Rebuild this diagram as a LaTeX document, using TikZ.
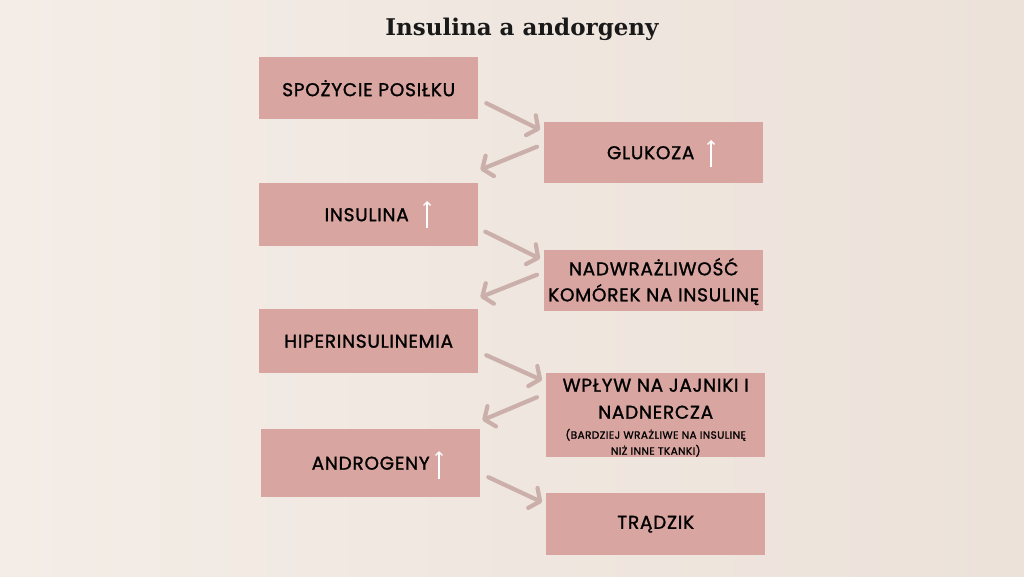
\documentclass[tikz,border=0pt]{standalone}
\usepackage{fontspec}
\setmainfont{Poppins}
\newfontfamily\boxfont{Poppins}[FakeBold=1.3,LetterSpace=4]
\newfontfamily\titlefont{DejaVu Serif}
\usetikzlibrary{arrows.meta,calc}
\definecolor{bg}{HTML}{ECE2DA}
\definecolor{bgl}{HTML}{F4EDE7}
\definecolor{boxc}{HTML}{D9A5A0}
\definecolor{arrc}{HTML}{CBAFAA}
\tikzset{
  boxtext/.style={align=center, font=\boxfont\fontsize{18.5}{26}\selectfont, text=black, inner sep=0pt},
  box/.style={boxtext, fill=boxc, draw=none, anchor=north west, minimum width=219pt},
  flow/.style={arrc, line width=4.2pt, line cap=round, -{Straight Barb[length=8pt,width=22pt,line width=4.2pt,round]}},
  upar/.style={white, line width=1.3pt, -{Straight Barb[length=3.5pt,width=7pt,line width=1.3pt]}},
}
\begin{document}
\begin{tikzpicture}[x=1pt,y=-1pt]
\useasboundingbox (0,0) rectangle (1024,576);
\shade[left color=bgl, right color=bg, middle color=bg!60!bgl] (-1,-1) rectangle (1025,577);
\node[font=\titlefont\bfseries\fontsize{23}{26}\selectfont, text=black!90] (title) at (522,29) {Insulina a andorgeny};
\node[box, minimum height=62pt] (n1) at (259,57) {SPOŻYCIE POSIŁKU};
\node[box, minimum height=61pt] (n2) at (544,122) {GLUKOZA\hspace{6pt}};
\node[box, minimum height=63pt] (n3) at (259,183) {INSULINA\hspace{4pt}};
\node[box, minimum height=61pt] (n4) at (544,250) {\rule{0pt}{19pt}NADWRAŻLIWOŚĆ\\KOMÓREK NA INSULINĘ};
\node[box, minimum height=64pt] (n5) at (259,309) {HIPERINSULINEMIA};
\node[box, minimum height=84pt] (n6) at (546,373) {};
\node[boxtext] (n6t) at ($(n6.center)+(0,2.5)$) {WPŁYW NA JAJNIKI I\\[1pt]NADNERCZA\\[-6pt]{\fontsize{10.5}{15}\selectfont (BARDZIEJ WRAŻLIWE NA INSULINĘ}\\[-10pt]{\fontsize{10.5}{15}\selectfont NIŻ INNE TKANKI)}};
\node[box, minimum height=68pt] (n7) at (261,429) {ANDROGENY};
\node[box, minimum height=62pt] (n8) at (546,493) {TRĄDZIK};
% white up arrows
\draw[upar] ($(n2.north west)+(167,45)$) -- ++(0,-27);
\draw[upar] ($(n3.north west)+(168,45)$) -- ++(0,-27);
\draw[upar] ($(n7.north west)+(178,50)$) -- ++(0,-28);
% flow arrows
\draw[flow] ($(n1.east)+(8,15)$) -- ($(n2.west)+(-4,-23)$);
\draw[flow] ($(n2.west)+(-7,-6)$) -- ($(n3.east)+(2,-45)$);
\draw[flow] ($(n3.east)+(7,17)$) -- ($(n4.west)+(-4,-22)$);
\draw[flow] ($(n4.west)+(-7,-6)$) -- ($(n5.east)+(2,-44)$);
\draw[flow] ($(n5.east)+(8,14)$) -- ($(n6.west)+(-4,-35)$);
\draw[flow] ($(n6.west)+(-9,-18)$) -- ($(n7.east)+(2,-43)$);
\draw[flow] ($(n7.east)+(8,14)$) -- ($(n8.west)+(-4,-22)$);
\end{tikzpicture}
\end{document}
